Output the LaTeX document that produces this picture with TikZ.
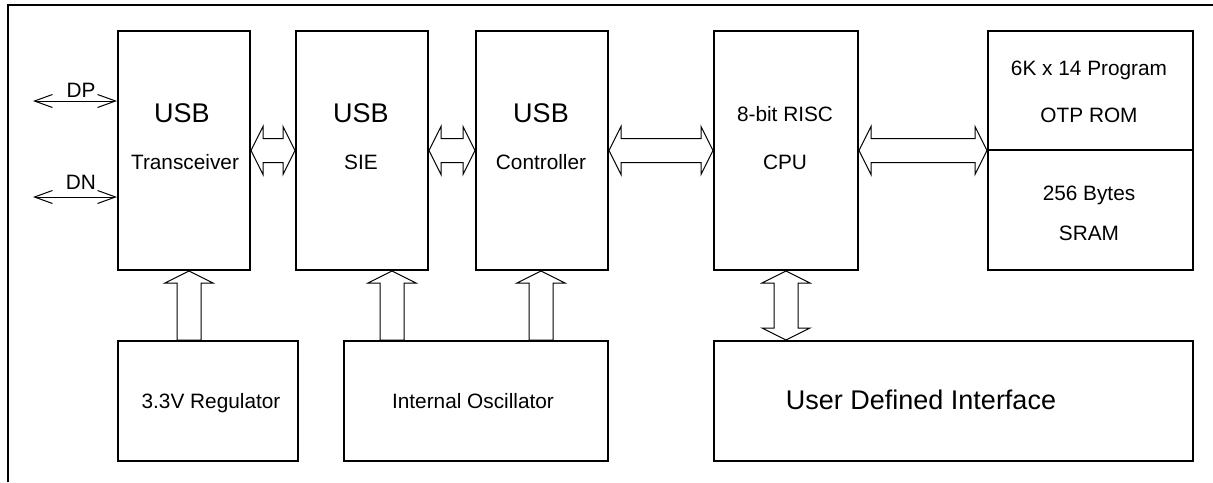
\documentclass[tikz,border=0pt]{standalone}
\usepackage{fontspec}
\setmainfont{Liberation Sans}
\usetikzlibrary{calc,arrows.meta}

% wide bus arrows drawn as outlines
\newcommand{\hbus}[2]{%
\draw[bus] (#1) -- ++(12,-24) -- ++(0,12) -- ($(#2)+(-12,-12)$) -- ++(0,-12) -- (#2)
  -- ++(-12,24) -- ++(0,-12) -- ($(#1)+(12,12)$) -- ++(0,12) -- cycle;}
\newcommand{\vbus}[2]{%
\draw[bus] (#1) -- ++(24,12) -- ++(-12,0) -- ($(#2)+(12,-12)$) -- ++(12,0) -- (#2)
  -- ++(-24,-12) -- ++(12,0) -- ($(#1)+(-12,12)$) -- ++(-12,0) -- cycle;}
\newcommand{\upbus}[2]{%
\draw[bus] (#1) -- ++(24,12) -- ++(-12,0) -- ($(#2)+(12,0)$) -- ++(-24,0)
  -- ($(#1)+(-12,12)$) -- ++(-12,0) -- cycle;}

\tikzset{
  blk/.style={draw,line width=2pt,inner sep=0pt,anchor=north west},
  big/.style={font=\fontsize{27}{32}\selectfont,anchor=base,inner sep=0pt},
  txt/.style={font=\fontsize{20.8}{25}\selectfont,anchor=base,inner sep=0pt},
  bus/.style={line width=1pt},
  sig/.style={line width=1pt,{Straight Barb[length=18pt,width=13pt]}-{Straight Barb[length=18pt,width=13pt]}}
}

\begin{document}
\begin{tikzpicture}[x=1pt,y=-1pt]
\useasboundingbox (0,0) rectangle (1213,482);
\draw[line width=2pt] (8,482) -- (8,5) -- (1213,5);

% upper row
\node[blk,minimum width=132pt,minimum height=239pt] (trx) at (117,30) {};
\node[blk,minimum width=132pt,minimum height=239pt] (sie) at (295,30) {};
\node[blk,minimum width=132pt,minimum height=239pt] (ctrl) at (475,30) {};
\node[blk,minimum width=144pt,minimum height=239pt] (cpu) at (713,30) {};
\node[blk,minimum width=205pt,minimum height=119pt] (rom) at (987,30) {};
\node[blk,minimum width=205pt,minimum height=120pt] (sram) at (987,149) {};

% lower row
\node[blk,minimum width=180pt,minimum height=120pt] (reg) at (117,340) {};
\node[blk,minimum width=264pt,minimum height=120pt] (osc) at (343,340) {};
\node[blk,minimum width=479pt,minimum height=120pt] (udi) at (713,340) {};

% texts
\node[big] (trxusb) at (182,122) {USB};
\node[txt] (trxname) at (185,169) {Transceiver};
\node[big] (sieusb) at (361,122) {USB};
\node[txt] (siename) at (361,169) {SIE};
\node[big] (ctrlusb) at (541,122) {USB};
\node[txt] (ctrlname) at (541,169) {Controller};
\node[txt] (cpuhead) at (785,121) {8-bit RISC};
\node[txt] (cpuname) at (785,169) {CPU};
\node[txt] (romhead) at (1089,75) {6K x 14 Program};
\node[txt] (romname) at (1089,122) {OTP ROM};
\node[txt] (sramhead) at (1089,200) {256 Bytes};
\node[txt] (sramname) at (1089,240) {SRAM};
\node[txt] (regname) at (211,408) {3.3V Regulator};
\node[txt] (oscname) at (473,408) {Internal Oscillator};
\node[big] (udiname) at (921,409) {User Defined Interface};

% DP / DN lines
\coordinate (dpend) at (33,101);
\coordinate (dnend) at (33,197);
\draw[sig] (dpend) -- (dpend -| trx.west);
\draw[sig] (dnend) -- (dnend -| trx.west);
\node[txt] (dplbl) at (81,97) {DP};
\node[txt] (dnlbl) at (81,189) {DN};

% buses
\hbus{trx.east}{sie.west}
\hbus{sie.east}{ctrl.west}
\hbus{ctrl.east}{cpu.west}
\coordinate (memtap) at (cpu.east -| rom.west);
\hbus{cpu.east}{memtap}
\coordinate (uditap) at (udi.north -| cpu.south);
\vbus{cpu.south}{uditap}

\coordinate (regx) at (189,0);
\coordinate (oscx) at (392,0);
\coordinate (ctlx) at (541,0);
\coordinate (regtip) at (regx |- trx.south);
\coordinate (regbase) at (regx |- reg.north);
\coordinate (osctip) at (oscx |- sie.south);
\coordinate (oscbase) at (oscx |- osc.north);
\coordinate (ctltip) at (ctlx |- ctrl.south);
\coordinate (ctlbase) at (ctlx |- osc.north);
\upbus{regtip}{regbase}
\upbus{osctip}{oscbase}
\upbus{ctltip}{ctlbase}
\end{tikzpicture}
\end{document}
